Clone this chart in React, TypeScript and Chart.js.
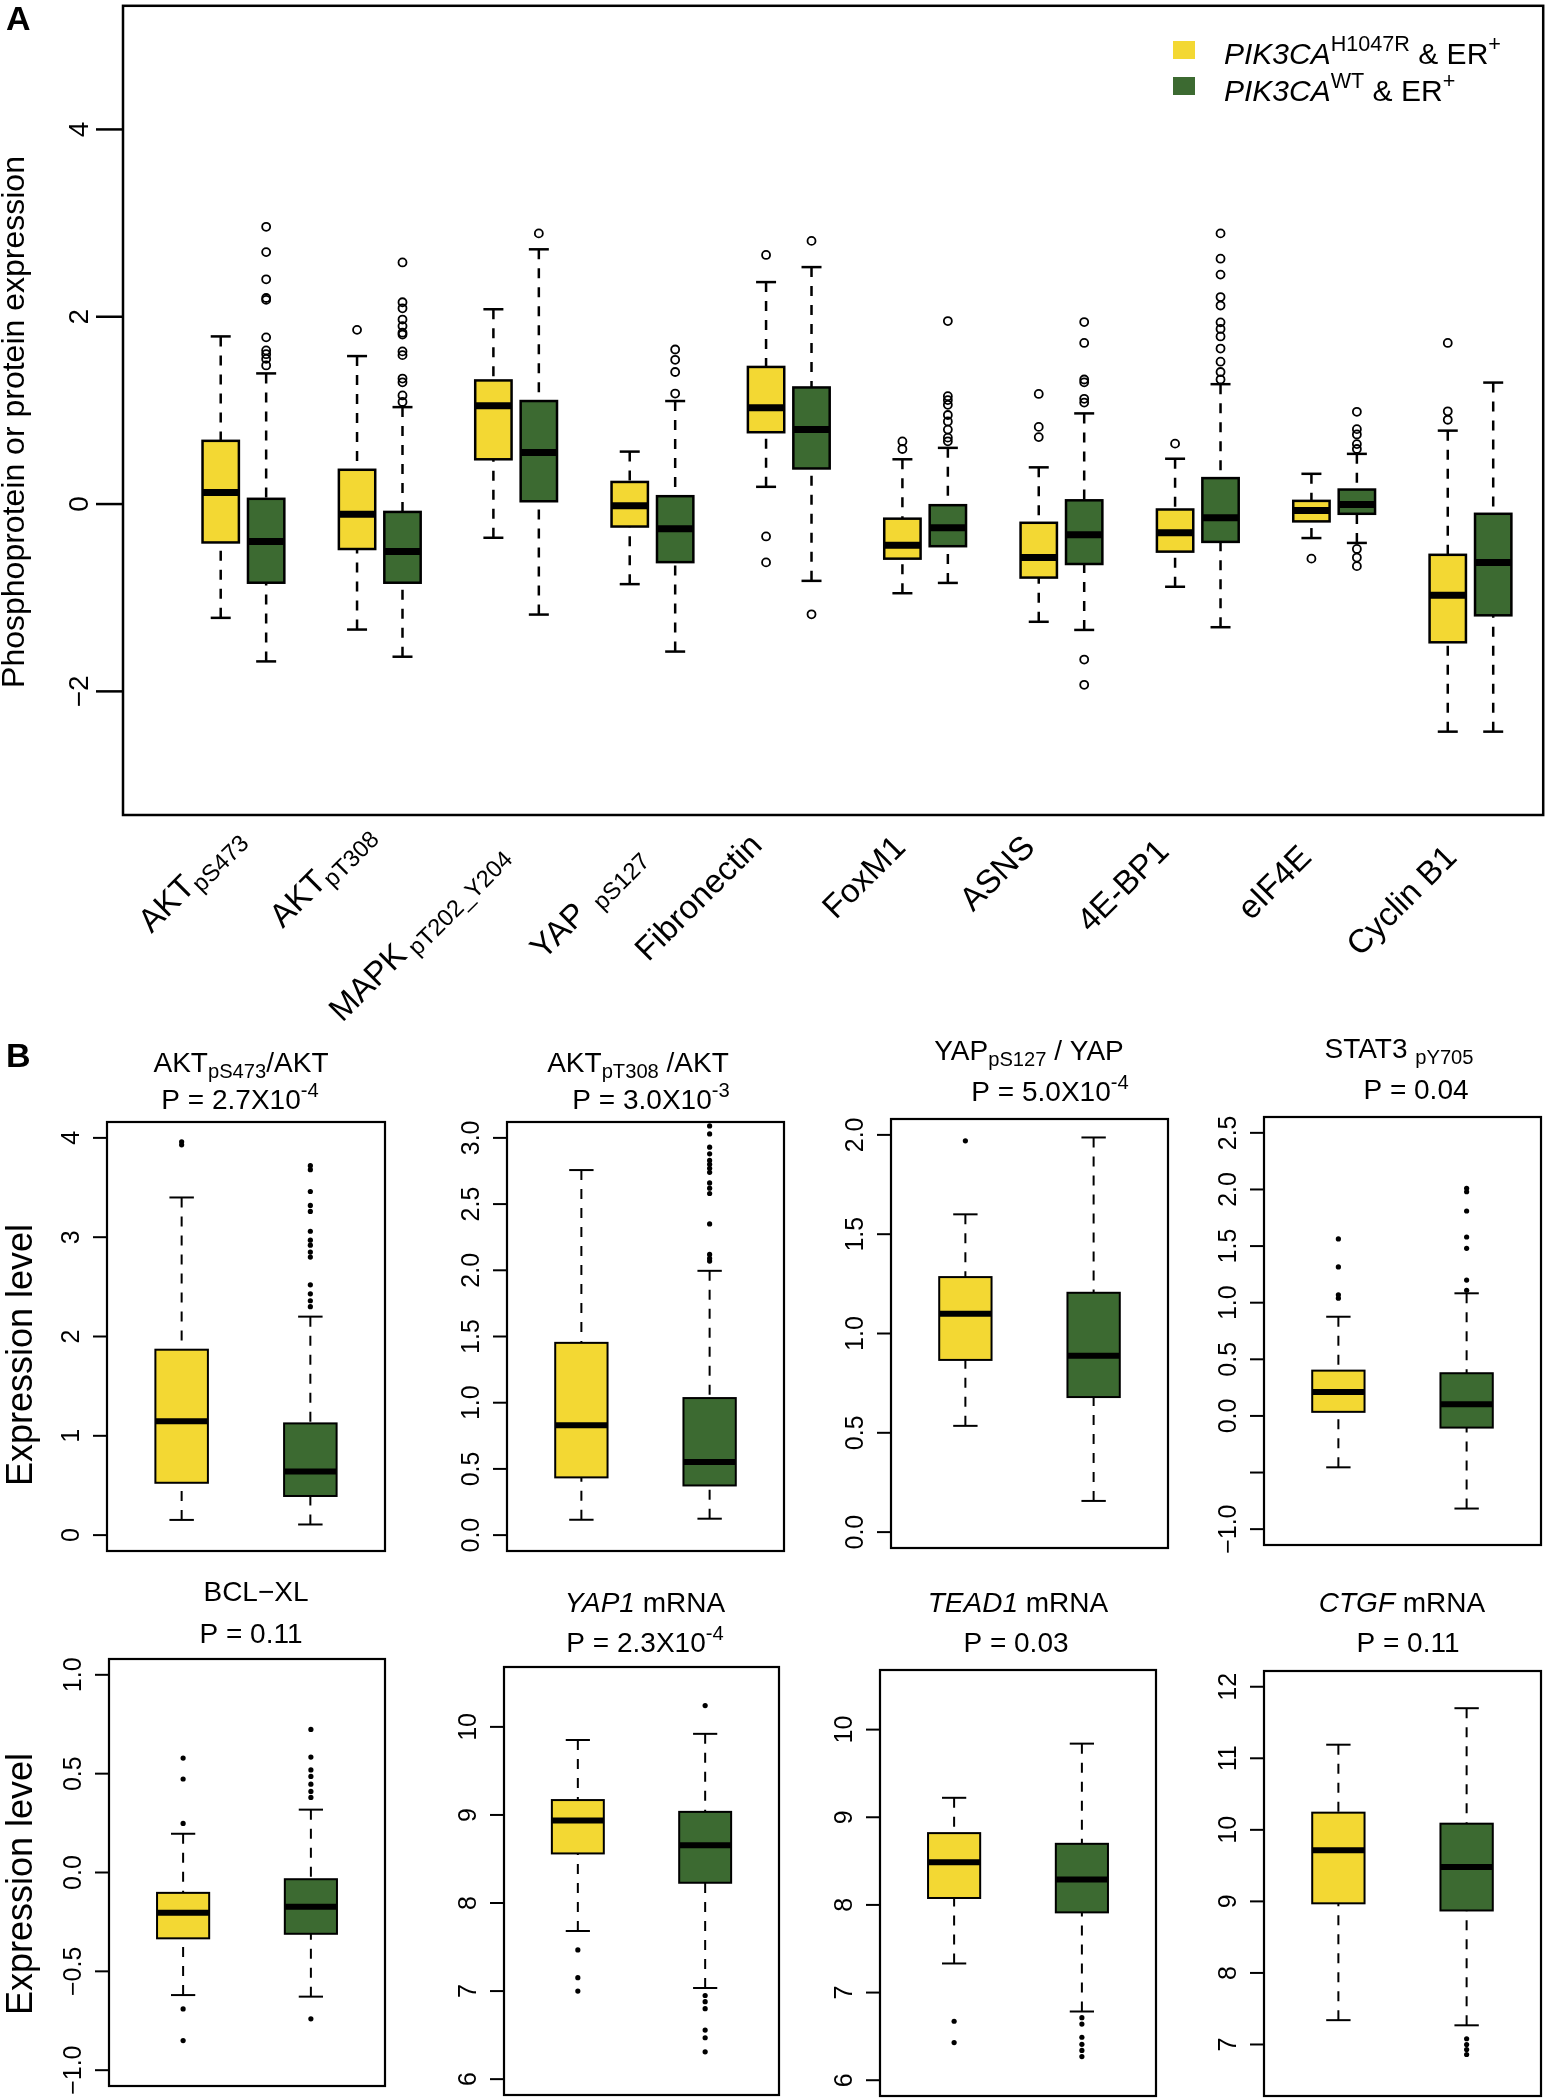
import React, { useEffect, useRef } from 'react';
import { Chart, registerables } from 'chart.js';

Chart.register(...registerables);

const FONT = "'Liberation Sans', Arial, Helvetica, sans-serif";
const YELLOW = '#F3D833';
const GREEN = '#3C6A31';

// ---------------- Panel A data ----------------
const catMainA = ['AKT', 'AKT', 'MAPK', 'YAP', 'Fibronectin', 'FoxM1', 'ASNS', '4E-BP1', 'eIF4E', 'Cyclin B1'];
const catSubA = ['pS473', 'pT308', ' pT202_Y204', '  pS127', '', '', '', '', '', ''];

const mutLowA = [-1.215, -1.34, -0.36, -0.855, 0.184, -0.952, -1.257, -0.883, -0.363, -2.43];
const mutQ1A = [-0.41, -0.48, 0.478, -0.24, 0.767, -0.583, -0.785, -0.508, -0.185, -1.476];
const mutMedA = [0.124, -0.11, 1.05, -0.017, 1.027, -0.44, -0.571, -0.306, -0.069, -0.975];
const mutQ3A = [0.675, 0.366, 1.32, 0.236, 1.464, -0.156, -0.2, -0.058, 0.034, -0.542];
const mutHighA = [1.79, 1.58, 2.08, 0.56, 2.37, 0.478, 0.392, 0.484, 0.323, 0.784];
const mutOutA = [[], [1.86], [], [], [2.66, -0.346, -0.623], [0.669, 0.588], [1.176, 0.824, 0.715], [0.645], [-0.583], [1.72, 0.99, 0.9]];

const wtLowA = [-1.68, -1.63, -1.18, -1.575, -0.82, -0.842, -1.344, -1.315, -0.415, -2.43];
const wtQ1A = [-0.84, -0.84, 0.03, -0.62, 0.38, -0.45, -0.64, -0.404, -0.104, -1.188];
const wtMedA = [-0.4, -0.506, 0.55, -0.264, 0.795, -0.254, -0.329, -0.145, -0.006, -0.623];
const wtQ3A = [0.056, -0.084, 1.1, 0.084, 1.245, -0.012, 0.04, 0.277, 0.155, -0.104];
const wtHighA = [1.395, 1.035, 2.72, 1.1, 2.53, 0.6, 0.968, 1.28, 0.536, 1.297];
const wtOutA = [
  [2.96, 2.69, 2.4, 2.2, 2.18, 1.78, 1.64, 1.6, 1.55, 1.48],
  [2.58, 2.155, 2.09, 1.97, 1.9, 1.83, 1.81, 1.63, 1.59, 1.34, 1.3, 1.16, 1.09],
  [2.89],
  [1.65, 1.54, 1.41, 1.18],
  [2.81, -1.177],
  [1.954, 1.152, 1.11, 1.06, 0.951, 0.882, 0.795, 0.709, 0.67],
  [1.943, 1.72, 1.33, 1.3, 1.124, 1.084, -1.66, -1.93],
  [2.89, 2.62, 2.45, 2.21, 2.12, 1.94, 1.87, 1.79, 1.66, 1.52, 1.41, 1.33],
  [0.985, 0.8, 0.743, 0.64, 0.588, -0.479, -0.571, -0.663],
  [],
];

const tickValsA = [-2, 0, 2, 4];
const tickLabsA = ['\u22122', '0', '2', '4'];
const yTitleA = 'Phosphoprotein or protein expression';
const legendMain = ['PIK3CA', 'PIK3CA'];
const legendSup = ['H1047R', 'WT'];

// ---------------- Panel B data ----------------
const titlesB: [string, string][][] = [
  [['AKT', 'n'], ['pS473', 's'], ['/AKT', 'n']],
  [['AKT', 'n'], ['pT308', 's'], [' /AKT', 'n']],
  [['YAP', 'n'], ['pS127', 's'], [' / YAP', 'n']],
  [['STAT3 ', 'n'], ['pY705', 's']],
  [['BCL\u2212XL', 'n']],
  [['YAP1', 'i'], [' mRNA', 'n']],
  [['TEAD1', 'i'], [' mRNA', 'n']],
  [['CTGF', 'i'], [' mRNA', 'n']],
];
const pMainB = ['P = 2.7X10', 'P = 3.0X10', 'P = 5.0X10', 'P = 0.04', 'P = 0.11', 'P = 2.3X10', 'P = 0.03', 'P = 0.11'];
const pSupB = ['-4', '-3', '-4', '', '', '-4', '', ''];

const mutLowB = [0.153, 0.116, 0.535, -0.454, -0.62, 7.682, 7.332, 7.34];
const mutQ1B = [0.527, 0.436, 0.867, 0.036, -0.333, 8.563, 8.079, 8.973];
const mutMedB = [1.146, 0.83, 1.1, 0.211, -0.204, 8.936, 8.487, 9.715];
const mutQ3B = [1.867, 1.452, 1.284, 0.4, -0.103, 9.169, 8.819, 10.24];
const mutHighB = [3.4, 2.757, 1.6, 0.876, 0.196, 9.851, 9.222, 11.19];
const mutOutB = [
  [3.96, 3.93],
  [],
  [1.97],
  [1.563, 1.316, 1.07, 1.04],
  [0.579, 0.473, 0.248, -0.69, -0.85],
  [7.467, 7.152, 7.0],
  [6.673, 6.43],
  [],
];

const wtLowB = [0.107, 0.124, 0.157, -0.818, -0.628, 7.035, 6.784, 7.268];
const wtQ1B = [0.394, 0.375, 0.68, -0.103, -0.31, 8.23, 7.915, 8.873];
const wtMedB = [0.64, 0.552, 0.888, 0.103, -0.173, 8.656, 8.289, 9.479];
const wtQ3B = [1.125, 1.035, 1.205, 0.377, -0.034, 9.035, 8.697, 10.086];
const wtHighB = [2.2, 1.996, 1.987, 1.083, 0.318, 9.921, 9.84, 11.7];
const wtOutB = [
  [3.72, 3.68, 3.46, 3.32, 3.26, 3.06, 2.97, 2.92, 2.85, 2.8, 2.52, 2.43, 2.36, 2.3],
  [3.09, 3.03, 2.93, 2.88, 2.83, 2.8, 2.77, 2.74, 2.66, 2.62, 2.58, 2.35, 2.12, 2.09, 2.07],
  [],
  [2.01, 1.98, 1.81, 1.58, 1.48, 1.2, 1.11],
  [0.724, 0.584, 0.519, 0.486, 0.447, 0.41, 0.38, -0.74],
  [10.242, 6.95, 6.88, 6.8, 6.557, 6.47, 6.31],
  [6.714, 6.64, 6.49, 6.41, 6.34, 6.27],
  [7.08, 7.0, 6.93, 6.86],
];

const yMinB = [-0.16, -0.12, -0.08, -1.14, -1.08, 5.82, 5.82, 6.28];
const yMaxB = [4.16, 3.12, 2.08, 2.64, 1.08, 10.68, 10.68, 12.22];
const tickValsB = [
  [0, 1, 2, 3, 4],
  [0, 0.5, 1, 1.5, 2, 2.5, 3],
  [0, 0.5, 1, 1.5, 2],
  [-1, -0.5, 0, 0.5, 1, 1.5, 2, 2.5],
  [-1, -0.5, 0, 0.5, 1],
  [6, 7, 8, 9, 10],
  [6, 7, 8, 9, 10],
  [7, 8, 9, 10, 11, 12],
];
const tickLabsB = [
  ['0', '1', '2', '3', '4'],
  ['0.0', '0.5', '1.0', '1.5', '2.0', '2.5', '3.0'],
  ['0.0', '0.5', '1.0', '1.5', '2.0'],
  ['\u22121.0', '', '0.0', '0.5', '1.0', '1.5', '2.0', '2.5'],
  ['\u22121.0', '\u22120.5', '0.0', '0.5', '1.0'],
  ['6', '7', '8', '9', '10'],
  ['6', '7', '8', '9', '10'],
  ['7', '8', '9', '10', '11', '12'],
];
const yTitleB = 'Expression level';

// ---------------- Layout (page pixels) ----------------
interface Rect { x: number; y: number; w: number; h: number }
interface Box { l: number; t: number; r: number; b: number }

const rectA: Rect = { x: 0, y: 0, w: 1549, h: 1030 };
const boxA: Box = { l: 123, t: 3, r: 1545, b: 815 };
const xRangeA: [number, number] = [-1.15, 30.1];
const yRangeA: [number, number] = [-3.32, 5.32];
const labelDxA = [2, -4, -7, -6, -25, -18, -25, -27, -21, -12];
const labelYA = [840, 836, 856, 858, 847, 849, 849, 853, 859, 859];

const cellsB: Rect[] = [
  { x: 0, y: 1030, w: 400, h: 530 },
  { x: 400, y: 1030, w: 390, h: 530 },
  { x: 790, y: 1030, w: 390, h: 530 },
  { x: 1180, y: 1030, w: 369, h: 530 },
  { x: 0, y: 1560, w: 400, h: 540 },
  { x: 400, y: 1560, w: 390, h: 540 },
  { x: 790, y: 1560, w: 390, h: 540 },
  { x: 1180, y: 1560, w: 369, h: 540 },
];
const boxesB: Box[] = [
  { l: 107, t: 1122, r: 385, b: 1551 },
  { l: 507, t: 1122, r: 784, b: 1551 },
  { l: 891, t: 1119, r: 1168, b: 1548 },
  { l: 1264, t: 1117, r: 1541, b: 1545 },
  { l: 109, t: 1659, r: 385, b: 2086 },
  { l: 504, t: 1667, r: 779, b: 2095 },
  { l: 880, t: 1670, r: 1156, b: 2097 },
  { l: 1264, t: 1671, r: 1541, b: 2097 },
];
const titlePosB = [
  [241, 1072, 240, 1109],
  [638, 1072, 651, 1109],
  [1029, 1060, 1050, 1101],
  [1399, 1058, 1416, 1099],
  [256, 1601, 251, 1643],
  [645, 1612, 645, 1652],
  [1018, 1612, 1016, 1652],
  [1402, 1612, 1408, 1652],
];
const xRangeB: [number, number] = [0.42, 2.58];

// ---------------- Drawing helpers ----------------
function drawRich(
  ctx: CanvasRenderingContext2D,
  segs: [string, string][],
  x: number,
  y: number,
  size: number,
  align: 'left' | 'center' | 'right'
) {
  const small = size * 0.72;
  const spec = (k: string) => {
    if (k === 'i') return { font: `italic ${size}px ${FONT}`, dy: 0 };
    if (k === 's') return { font: `${small}px ${FONT}`, dy: size * 0.2 };
    if (k === 'u') return { font: `${small}px ${FONT}`, dy: -size * 0.42 };
    return { font: `${size}px ${FONT}`, dy: 0 };
  };
  const parts = segs.map(([t, k]) => {
    const s = spec(k);
    ctx.font = s.font;
    return { t, font: s.font, dy: s.dy, w: ctx.measureText(t).width };
  });
  const total = parts.reduce((a, p) => a + p.w, 0);
  let cx = align === 'left' ? x : align === 'center' ? x - total / 2 : x - total;
  ctx.textAlign = 'left';
  ctx.textBaseline = 'alphabetic';
  ctx.fillStyle = '#000';
  for (const p of parts) {
    ctx.font = p.font;
    ctx.fillText(p.t, cx, y + p.dy);
    cx += p.w;
  }
}

interface BoxStyle { half: number; cap: number; lw: number; medLw: number; dash: number[] }

function line(ctx: CanvasRenderingContext2D, x1: number, y1: number, x2: number, y2: number) {
  ctx.beginPath();
  ctx.moveTo(x1, y1);
  ctx.lineTo(x2, y2);
  ctx.stroke();
}

function drawBox(chart: any, pos: number, s: number[], color: string, st: BoxStyle) {
  const ctx: CanvasRenderingContext2D = chart.ctx;
  const xs = chart.scales.x;
  const ys = chart.scales.y;
  const xc = xs.getPixelForValue(pos);
  const xl = xs.getPixelForValue(pos - st.half);
  const xr = xs.getPixelForValue(pos + st.half);
  const cl = xs.getPixelForValue(pos - st.cap);
  const cr = xs.getPixelForValue(pos + st.cap);
  const [yLow, yQ1, yMed, yQ3, yHigh] = s.map((v) => ys.getPixelForValue(v));
  ctx.save();
  ctx.strokeStyle = '#000';
  ctx.lineWidth = st.lw;
  ctx.lineCap = 'butt';
  ctx.setLineDash(st.dash);
  line(ctx, xc, yHigh, xc, yQ3);
  line(ctx, xc, yLow, xc, yQ1);
  ctx.setLineDash([]);
  line(ctx, cl, yHigh, cr, yHigh);
  line(ctx, cl, yLow, cr, yLow);
  ctx.fillStyle = color;
  ctx.fillRect(xl, yQ3, xr - xl, yQ1 - yQ3);
  ctx.strokeRect(xl, yQ3, xr - xl, yQ1 - yQ3);
  ctx.lineWidth = st.medLw;
  line(ctx, xl, yMed, xr, yMed);
  ctx.restore();
}

function baseOptions(rect: Rect, box: Box, xr: [number, number], yr: [number, number]) {
  return {
    animation: false,
    responsive: false,
    maintainAspectRatio: false,
    devicePixelRatio: 1,
    events: [],
    layout: {
      padding: {
        left: box.l - rect.x,
        top: box.t - rect.y,
        right: rect.x + rect.w - box.r,
        bottom: rect.y + rect.h - box.b,
      },
    },
    plugins: { legend: { display: false }, tooltip: { enabled: false }, title: { display: false } },
    scales: {
      x: { type: 'linear', display: false, min: xr[0], max: xr[1] },
      y: { type: 'linear', display: false, min: yr[0], max: yr[1] },
    },
  };
}

// ---------------- Panel A ----------------
const styleA: BoxStyle = { half: 0.4, cap: 0.22, lw: 2.5, medLw: 7, dash: [10, 9] };

function makePanelA(canvas: HTMLCanvasElement) {
  const rect = rectA;
  const mutPts = mutOutA.flatMap((arr, i) => arr.map((v) => ({ x: i * 3 + 1, y: v })));
  const wtPts = wtOutA.flatMap((arr, i) => arr.map((v) => ({ x: i * 3 + 2, y: v })));
  const ptStyle = {
    showLine: false,
    pointRadius: 4,
    pointBorderWidth: 1.8,
    pointBorderColor: '#000',
    pointBackgroundColor: 'rgba(0,0,0,0)',
    clip: false,
  };
  const plugin = {
    id: 'boxA',
    beforeDatasetsDraw(chart: any) {
      for (let i = 0; i < catMainA.length; i++) {
        drawBox(chart, i * 3 + 1, [mutLowA[i], mutQ1A[i], mutMedA[i], mutQ3A[i], mutHighA[i]], YELLOW, styleA);
        drawBox(chart, i * 3 + 2, [wtLowA[i], wtQ1A[i], wtMedA[i], wtQ3A[i], wtHighA[i]], GREEN, styleA);
      }
    },
    afterDraw(chart: any) {
      const ctx: CanvasRenderingContext2D = chart.ctx;
      const ca = chart.chartArea;
      const xs = chart.scales.x;
      const ys = chart.scales.y;
      ctx.save();
      ctx.strokeStyle = '#000';
      ctx.lineWidth = 2.5;
      ctx.strokeRect(ca.left, ca.top, ca.right - ca.left, ca.bottom - ca.top);
      // y ticks
      tickValsA.forEach((v, k) => {
        const y = ys.getPixelForValue(v);
        line(ctx, ca.left - 27, y, ca.left, y);
        ctx.save();
        ctx.translate(ca.left - 35, y);
        ctx.rotate(-Math.PI / 2);
        ctx.font = `28px ${FONT}`;
        ctx.fillStyle = '#000';
        ctx.textAlign = 'center';
        ctx.textBaseline = 'alphabetic';
        ctx.fillText(tickLabsA[k], 0, 0);
        ctx.restore();
      });
      // y title
      ctx.save();
      ctx.translate(24 - rect.x, 422 - rect.y);
      ctx.rotate(-Math.PI / 2);
      ctx.font = `32px ${FONT}`;
      ctx.fillStyle = '#000';
      ctx.textAlign = 'center';
      ctx.textBaseline = 'alphabetic';
      ctx.fillText(yTitleA, 0, 0);
      ctx.restore();
      // x category labels
      for (let i = 0; i < catMainA.length; i++) {
        const pc = xs.getPixelForValue(i * 3 + 1.5);
        ctx.save();
        ctx.translate(pc + labelDxA[i], labelYA[i] - rect.y);
        ctx.rotate(-Math.PI / 4);
        const segs: [string, string][] = [[catMainA[i], 'n']];
        if (catSubA[i]) segs.push([catSubA[i], 's']);
        drawRich(ctx, segs, 0, 0, 33, 'right');
        ctx.restore();
      }
      // legend
      const colors = [YELLOW, GREEN];
      const sqTop = [41, 77];
      const base = [64, 101];
      for (let r = 0; r < 2; r++) {
        ctx.fillStyle = colors[r];
        ctx.fillRect(1173 - rect.x, sqTop[r] - rect.y, 22, 18);
        drawRich(
          ctx,
          [[legendMain[r], 'i'], [legendSup[r], 'u'], [' & ER', 'n'], ['+', 'u']],
          1224 - rect.x,
          base[r] - rect.y,
          30,
          'left'
        );
      }
      // panel letter
      ctx.font = `bold 34px ${FONT}`;
      ctx.fillStyle = '#000';
      ctx.textAlign = 'left';
      ctx.textBaseline = 'alphabetic';
      ctx.fillText('A', 6 - rect.x, 30 - rect.y);
      ctx.restore();
    },
  };
  return new Chart(canvas, {
    type: 'scatter',
    data: {
      datasets: [
        { label: 'mut', data: mutPts, ...ptStyle },
        { label: 'wt', data: wtPts, ...ptStyle },
      ],
    },
    options: baseOptions(rect, boxA, xRangeA, yRangeA) as any,
    plugins: [plugin],
  } as any);
}

// ---------------- Panel B ----------------
const styleB: BoxStyle = { half: 0.204, cap: 0.095, lw: 2, medLw: 6, dash: [10, 9] };

function makePanelB(canvas: HTMLCanvasElement, i: number) {
  const rect = cellsB[i];
  const box = boxesB[i];
  const ptStyle = {
    showLine: false,
    pointRadius: 2.6,
    pointBorderWidth: 0,
    pointBackgroundColor: '#000',
    clip: false,
  };
  const plugin = {
    id: 'boxB' + i,
    beforeDatasetsDraw(chart: any) {
      drawBox(chart, 1, [mutLowB[i], mutQ1B[i], mutMedB[i], mutQ3B[i], mutHighB[i]], YELLOW, styleB);
      drawBox(chart, 2, [wtLowB[i], wtQ1B[i], wtMedB[i], wtQ3B[i], wtHighB[i]], GREEN, styleB);
    },
    afterDraw(chart: any) {
      const ctx: CanvasRenderingContext2D = chart.ctx;
      const ca = chart.chartArea;
      const ys = chart.scales.y;
      ctx.save();
      ctx.strokeStyle = '#000';
      ctx.lineWidth = 2.2;
      ctx.strokeRect(ca.left, ca.top, ca.right - ca.left, ca.bottom - ca.top);
      ctx.lineWidth = 2;
      tickValsB[i].forEach((v, k) => {
        const y = ys.getPixelForValue(v);
        line(ctx, ca.left - 14, y, ca.left, y);
        const lab = tickLabsB[i][k];
        if (!lab) return;
        ctx.save();
        ctx.translate(ca.left - 28, y);
        ctx.rotate(-Math.PI / 2);
        ctx.font = `25px ${FONT}`;
        ctx.fillStyle = '#000';
        ctx.textAlign = 'center';
        ctx.textBaseline = 'alphabetic';
        ctx.fillText(lab, 0, 0);
        ctx.restore();
      });
      const tp = titlePosB[i];
      drawRich(ctx, titlesB[i], tp[0] - rect.x, tp[1] - rect.y, 28, 'center');
      const pSegs: [string, string][] = [[pMainB[i], 'n']];
      if (pSupB[i]) pSegs.push([pSupB[i], 'u']);
      drawRich(ctx, pSegs, tp[2] - rect.x, tp[3] - rect.y, 28, 'center');
      if (i % 4 === 0) {
        ctx.save();
        ctx.translate(32 - rect.x, (i === 0 ? 1355 : 1884) - rect.y);
        ctx.rotate(-Math.PI / 2);
        ctx.font = `36px ${FONT}`;
        ctx.fillStyle = '#000';
        ctx.textAlign = 'center';
        ctx.textBaseline = 'alphabetic';
        ctx.fillText(yTitleB, 0, 0);
        ctx.restore();
      }
      if (i === 0) {
        ctx.font = `bold 34px ${FONT}`;
        ctx.fillStyle = '#000';
        ctx.textAlign = 'left';
        ctx.textBaseline = 'alphabetic';
        ctx.fillText('B', 6 - rect.x, 1067 - rect.y);
      }
      ctx.restore();
    },
  };
  return new Chart(canvas, {
    type: 'scatter',
    data: {
      datasets: [
        { label: 'mut', data: mutOutB[i].map((v) => ({ x: 1, y: v })), ...ptStyle },
        { label: 'wt', data: wtOutB[i].map((v) => ({ x: 2, y: v })), ...ptStyle },
      ],
    },
    options: baseOptions(rect, box, xRangeB, [yMinB[i], yMaxB[i]]) as any,
    plugins: [plugin],
  } as any);
}

// ---------------- React ----------------
function PlotCanvas({ rect, make }: { rect: Rect; make: (c: HTMLCanvasElement) => Chart }) {
  const ref = useRef<HTMLCanvasElement>(null);
  useEffect(() => {
    const chart = make(ref.current as HTMLCanvasElement);
    return () => chart.destroy();
  }, []);
  return (
    <canvas
      ref={ref}
      width={rect.w}
      height={rect.h}
      style={{ position: 'absolute', left: rect.x, top: rect.y, width: rect.w, height: rect.h }}
    />
  );
}

export default function App() {
  return (
    <div style={{ position: 'absolute', left: 0, top: 0, width: 1549, height: 2100, background: '#fff' }}>
      <PlotCanvas rect={rectA} make={makePanelA} />
      {cellsB.map((c, i) => (
        <PlotCanvas key={i} rect={c} make={(cv) => makePanelB(cv, i)} />
      ))}
    </div>
  );
}
